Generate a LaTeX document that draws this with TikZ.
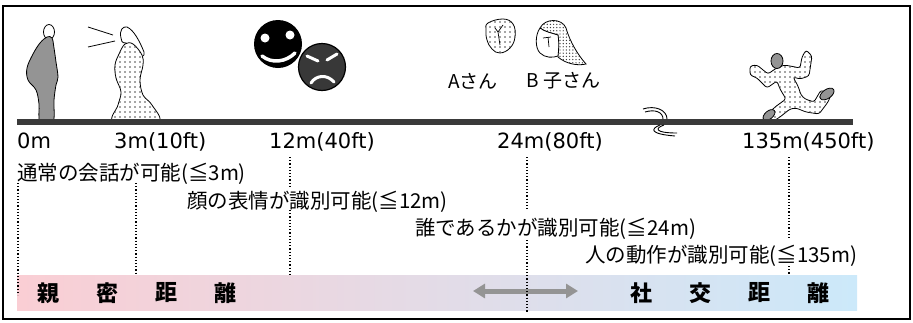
\documentclass[tikz,border=0pt]{standalone}
\usepackage{fontspec}
\setmainfont{DejaVu Sans}
\newfontfamily\jp{Noto Sans CJK JP}
\usetikzlibrary{positioning,arrows.meta,patterns.meta}

\definecolor{intimate}{RGB}{250,206,212}
\definecolor{social}{RGB}{204,233,250}
\definecolor{road}{RGB}{58,58,58}

\tikzset{
  dist/.style={inner sep=0pt, anchor=base west, font=\fontsize{21}{24}\selectfont},
  cue/.style={inner sep=0pt, anchor=base west, font=\jp\fontsize{20.5}{24}\selectfont},
  zone/.style={inner sep=0pt, font=\jp\bfseries\fontsize{22}{24}\selectfont},
  guide/.style={line width=1.2pt, dash pattern=on 1.2pt off 2pt},
  dotted fill/.style={fill=white, postaction={pattern={Dots[distance=5pt,radius=0.85pt]}, pattern color=black!70}},
  dense fill/.style={fill=white, postaction={pattern={Dots[distance=3.2pt,radius=0.7pt]}, pattern color=black!75}},
}

\begin{document}
\begin{tikzpicture}[x=1pt,y=-1pt]
\useasboundingbox (0,0) rectangle (913,322);
\draw[line width=1.3pt] (3,6) rectangle (910,319);

% zones band
\shade[left color=intimate,right color=social] (17,275) rectangle (857,310);
\foreach \c [count=\i] in {親,密,距,離}
  \node[zone] (near\i) at (48+59*\i-59,293) {\c};
\foreach \c [count=\i] in {社,交,距,離}
  \node[zone] (far\i) at (641+59*\i-59,293) {\c};
\coordinate (la) at (473,291);
\coordinate (ra) at (578,291);
\draw[black!42, line width=5pt, {Triangle[length=12pt,width=14pt]}-{Triangle[length=12pt,width=14pt]}] (la) -- (ra);

% distances
\node[dist] (m0) at (17,148) {0m};
\node[dist] (m3) at (114,148) {3m(10ft)};
\node[dist] (m12) at (269,148) {12m(40ft)};
\node[dist] (m24) at (497,148) {24m(80ft)};
\node[dist] (m135) at (742,148) {135m(450ft)};

\node[cue] (talk) at (17,180) {通常の会話が可能(≦3m)};
\node[cue] (face) at (187,208) {顔の表情が識別可能(≦12m)};
\node[cue] (who) at (415,235) {誰であるかが識別可能(≦24m)};
\node[cue] (move) at (585,262) {人の動作が識別可能(≦135m)};

\foreach \x/\a/\b in {18/183/295, 136/183/275, 290/157/187, 290/210/275,
                      527/157/211, 527/240/312, 789/157/238, 789/266/275}
  \draw[guide] (\x,\a) -- (\x,\b);

% man standing
\draw[fill=white, line width=0.8pt] (49,32) ellipse (5.5 and 7.5);
\filldraw[fill=black!42, line width=0.8pt] plot[smooth cycle, tension=0.6] coordinates {(47,37) (40,43) (33,54) (27,68) (28,80) (36,90) (39,104) (40,122) (53,122) (54,100) (56,85) (58,77) (56,62) (54,48) (52,38)};

% woman talking
\draw[line width=0.8pt] (88,27) -- (113,35) (88,47) -- (115,41);
\draw[fill=white, line width=0.8pt] (121,38) .. controls (119,30) and (123,26) .. (127,27) .. controls (134,30) and (140,42) .. (144,52) .. controls (145,57) and (141,58) .. (138,54) .. controls (135,48) and (130,44) .. (126,43) .. controls (122,43) and (121,41) .. (121,38);
\draw[dotted fill, line width=0.8pt] plot[smooth cycle, tension=0.6] coordinates {(125,44) (119,54) (115,65) (116,78) (121,92) (118,105) (114,122) (158,122) (152,105) (143,95) (140,80) (143,65) (142,55) (133,44)};

% faces
\fill[black] (278,44) circle (24);
\fill[white] (265,38) circle (4.5) (290,35) circle (4.5);
\draw[white, line width=3.5pt, line cap=round] (262,56) .. controls (272,64) and (286,62) .. (295,53);
\draw[white, line width=1.5pt, line cap=round] (259,62) -- (263,66);
\filldraw[fill=black!78, line width=1.2pt] (322,67) circle (23.5);
\draw[white, line width=3pt, line cap=round] (307,56) -- (318,61) (327,60) -- (337,54);
\draw[white, line width=3pt, line cap=round] (311,83) .. controls (316,75) and (327,74) .. (334,82);

% heads A and B
\draw[dotted fill, line width=0.8pt] plot[smooth cycle, tension=0.7] coordinates {(488,23) (503,19) (513,24) (515,37) (510,48) (500,53) (492,49) (487,40) (486,30)};
\draw[line width=0.7pt] (495,28) -- (498,32) -- (503,25) (498,32) -- (500,45);
\draw[dense fill, line width=0.8pt] (540,28) .. controls (545,18) and (562,18) .. (566,28) .. controls (570,42) and (578,55) .. (586,64) .. controls (578,66) and (566,64) .. (558,57) -- (558,35) .. controls (552,33) and (545,32) .. (540,28);
\draw[fill=white, line width=0.8pt] (540,28) .. controls (535,35) and (535,48) .. (540,53) .. controls (545,58) and (553,58) .. (558,56) .. controls (559,48) and (559,40) .. (558,35) .. controls (552,33) and (545,32) .. (540,28);
\draw[line width=0.7pt] (543,38) -- (551,37) (548,37) -- (549,47);
\node[inner sep=0pt, anchor=west, font=\jp\fontsize{19}{22}\selectfont] (asan) at (448,81) {Aさん};
\node[inner sep=0pt, right=28pt of asan, font=\jp\fontsize{19}{22}\selectfont] (bsan) {B\hspace{5pt}子さん};

% runner
\draw[dotted fill, line width=0.8pt, rounded corners=2.5pt] (775,69) -- (768,74) -- (757,65) -- (750,66) -- (750,75) -- (757,78) -- (767,88) -- (777,81) -- (780,89) -- (786,99) -- (775,107) -- (766,116) -- (772,122) -- (780,117) -- (790,109) -- (796,108) -- (806,112) -- (819,114) -- (828,102) -- (831,95) -- (821,90) -- (814,102) -- (805,99) -- (801,95) -- (798,86) -- (793,77) -- (800,79) -- (809,76) -- (812,56) -- (806,50) -- (802,57) -- (800,68) -- (790,66) -- (784,65) -- cycle;
\filldraw[fill=black!42, line width=0.8pt] (777,61) ellipse (6 and 7.5);
\filldraw[fill=black!42, line width=0.8pt, rotate around={40:(769,115)}] (769,115) ellipse (7 and 4);
\filldraw[fill=black!42, line width=0.8pt, rotate around={35:(827,94)}] (827,94) ellipse (8 and 4.5);

% ground and break mark
\fill[road] (17,119) rectangle (853,125);
\draw[line width=0.9pt] (643,109) .. controls (655,105) and (667,110) .. (667,119)
  (645,112) .. controls (655,109) and (663,112) .. (663,119)
  (660,125) .. controls (650,129) and (650,134) .. (675,136)
  (664,125) .. controls (655,128) and (654,133) .. (677,133);
\end{tikzpicture}
\end{document}
